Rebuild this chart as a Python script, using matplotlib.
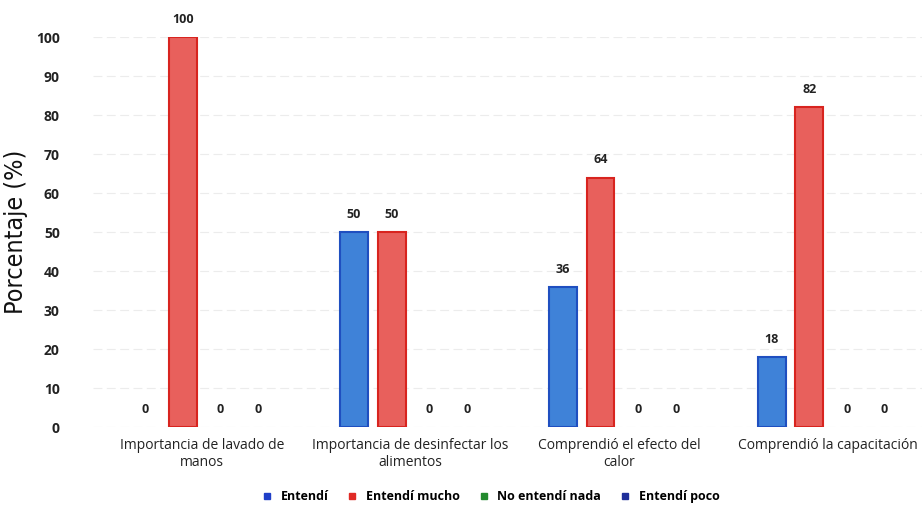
import numpy as np
import matplotlib.pyplot as plt
from matplotlib.lines import Line2D

# ---------- Datos ----------
categorias = ["Importancia de lavado de\nmanos",
              "Importancia de desinfectar los\nalimentos",
              "Comprendió el efecto del\ncalor",
              "Comprendió la capacitación"]
series = ["Entendí", "Entendí mucho", "No entendí nada", "Entendí poco"]
entendi = [0, 50, 36, 18]
entendi_mucho = [100, 50, 64, 82]
no_entendi_nada = [0, 0, 0, 0]
entendi_poco = [0, 0, 0, 0]
y_ticks = [0, 10, 20, 30, 40, 50, 60, 70, 80, 90, 100]

# ---------- Estilo ----------
colores = ["#3f82d8", "#e8605c", "#3d9a45", "#2a3fa8"]
bordes = ["#1f4fc0", "#d8241f", "#1f7a2a", "#1a2a90"]
legend_colores = ["#1f3fc8", "#e02a25", "#238a2e", "#1f2f9a"]

plt.rcParams['font.family'] = ['Open Sans', 'DejaVu Sans']

fig = plt.figure(figsize=(9.22, 5.09), dpi=100)
ax = fig.add_axes([0.101, 0.161, 0.899, 0.766])

x = np.arange(len(categorias))
ancho = 0.133
paso = 0.18
valores = [entendi, entendi_mucho, no_entendi_nada, entendi_poco]

for i, (nombre, vals) in enumerate(zip(series, valores)):
    pos = x + (i - 1.5) * paso
    lw = [1.5 if v > 0 else 0 for v in vals]
    barras = ax.bar(pos, vals, width=ancho, color=colores[i], edgecolor=bordes[i],
                    linewidth=lw, label=nombre)
    ax.bar_label(barras, labels=[str(v) for v in vals], padding=8,
                 fontsize=9, fontweight='bold', color='#222222')

ax.set_xlim(-0.52, 3.45)
ax.set_ylim(0, 100)
ax.set_yticks(y_ticks)
ax.set_xticks(x)
ax.set_xticklabels(categorias, fontsize=10, color='#222222')
ax.tick_params(axis='y', labelsize=10, length=0, pad=24, labelcolor='#222222')
for lab in ax.get_yticklabels():
    lab.set_fontweight('bold')
ax.tick_params(axis='x', length=0, pad=8)

ax.yaxis.grid(True, color='#ececec', linewidth=0.8, linestyle=(0, (8, 4)))
ax.set_axisbelow(True)
for s in ax.spines.values():
    s.set_visible(False)

ax.set_ylabel("Porcentaje (%)", fontsize=18, family='DejaVu Sans', fontstretch='condensed',
              labelpad=6, color='#111111')

legend_handles = [Line2D([0], [0], marker='s', linestyle='', markersize=5,
                         markerfacecolor=c, markeredgecolor=c) for c in legend_colores]
leg = fig.legend(legend_handles, series, loc='center', bbox_to_anchor=(0.528, 0.024),
                 ncol=4, frameon=False, fontsize=9, handletextpad=0.1, columnspacing=0.9)
for t in leg.get_texts():
    t.set_fontweight('bold')

fig.savefig("out.png", dpi=100, facecolor='white')
